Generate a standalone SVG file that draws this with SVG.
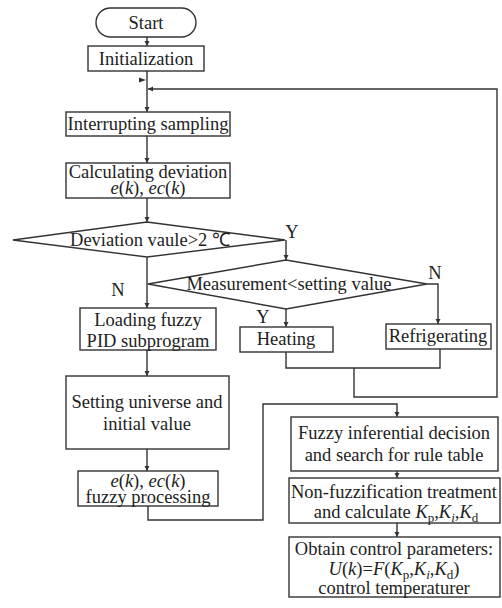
<svg xmlns="http://www.w3.org/2000/svg" width="502" height="608" viewBox="0 0 502 608">
<style>
.box{fill:#fff;stroke:#333;stroke-width:1.4}
.ln{fill:none;stroke:#333;stroke-width:1.4}
text{font-family:"Liberation Serif","Times New Roman",serif;font-size:18.5px;fill:#222;text-anchor:middle}
.i{font-style:italic}
.s{font-size:13px}
</style>
<defs>
<marker id="ah" viewBox="0 0 10 10" refX="10" refY="5" markerWidth="5" markerHeight="8" orient="auto" markerUnits="userSpaceOnUse">
<path d="M0,0 L10,5 L0,10 z" fill="#333"/>
</marker>
</defs>
<rect width="502" height="608" fill="#fff"/>
<g id="connectors">
<line class="ln" x1="147" y1="37" x2="147" y2="46" marker-end="url(#ah)"/>
<line class="ln" x1="147" y1="71" x2="147" y2="112" marker-end="url(#ah)"/>
<polygon points="139,77.5 146,80 139,82.5" fill="#333"/>
<polyline class="ln" points="354,368 354,397 497,397 497,89 148,89" marker-end="url(#ah)"/>
<line class="ln" x1="147" y1="136" x2="147" y2="163" marker-end="url(#ah)"/>
<line class="ln" x1="147" y1="198" x2="147" y2="222" marker-end="url(#ah)"/>
<line class="ln" x1="147" y1="257" x2="147" y2="308" marker-end="url(#ah)"/>
<line class="ln" x1="286" y1="240" x2="286" y2="260" marker-end="url(#ah)"/>
<line class="ln" x1="286" y1="309" x2="286" y2="327" marker-end="url(#ah)"/>
<polyline class="ln" points="427,284 438,284 438,324" marker-end="url(#ah)"/>
<polyline class="ln" points="286,352 286,368 440,368 440,349"/>
<line class="ln" x1="147" y1="350" x2="147" y2="376" marker-end="url(#ah)"/>
<line class="ln" x1="147" y1="449" x2="147" y2="471" marker-end="url(#ah)"/>
<polyline class="ln" points="148,506 148,520 263,520 263,404 397,404 397,417" marker-end="url(#ah)"/>
<line class="ln" x1="397" y1="471" x2="397" y2="478" marker-end="url(#ah)"/>
<line class="ln" x1="397" y1="523" x2="397" y2="537" marker-end="url(#ah)"/>
</g>
<g id="start">
<rect class="box" x="96" y="8" width="100" height="29" rx="14.5"/>
<text x="146" y="29">Start</text>
</g>
<g id="init">
<rect class="box" x="88" y="46" width="116" height="25"/>
<text x="146" y="65">Initialization</text>
</g>
<g id="sampling">
<rect class="box" x="66" y="112" width="164" height="24"/>
<text x="148" y="130">Interrupting sampling</text>
</g>
<g id="calc">
<rect class="box" x="66" y="163" width="164" height="35"/>
<text x="148" y="178">Calculating deviation</text>
<text x="148" y="194"><tspan class="i">e</tspan>(<tspan class="i">k</tspan>), <tspan class="i">ec</tspan>(<tspan class="i">k</tspan>)</text>
</g>
<g id="dev">
<polygon class="box" points="13,240 147,222 285,240 147,257"/>
<text x="150" y="246">Deviation vaule&gt;2 ℃</text>
</g>
<g id="meas">
<polygon class="box" points="148,284 286,260 427,284 286,309"/>
<text x="289" y="290">Measurement&lt;setting value</text>
</g>
<g id="labels">
<text x="292" y="238">Y</text>
<text x="118" y="296">N</text>
<text x="263" y="323">Y</text>
<text x="435" y="279">N</text>
</g>
<g id="loading">
<rect class="box" x="80" y="308" width="136" height="42"/>
<text x="148" y="326">Loading fuzzy</text>
<text x="148" y="347">PID subprogram</text>
</g>
<g id="heating">
<rect class="box" x="240" y="327" width="93" height="25"/>
<text x="286" y="345">Heating</text>
</g>
<g id="refrig">
<rect class="box" x="386" y="324" width="105" height="25"/>
<text x="438" y="342">Refrigerating</text>
</g>
<g id="setting">
<rect class="box" x="66" y="376" width="163" height="73"/>
<text x="147" y="408">Setting universe and</text>
<text x="147" y="430">initial value</text>
</g>
<g id="fuzzyproc">
<rect class="box" x="78" y="471" width="140" height="35"/>
<text x="148" y="487"><tspan class="i">e</tspan>(<tspan class="i">k</tspan>), <tspan class="i">ec</tspan>(<tspan class="i">k</tspan>)</text>
<text x="148" y="503">fuzzy processing</text>
</g>
<g id="inference">
<rect class="box" x="291" y="417" width="207" height="54"/>
<text x="394" y="439">Fuzzy inferential decision</text>
<text x="394" y="461">and search for rule table</text>
</g>
<g id="defuzz">
<rect class="box" x="289" y="478" width="211" height="45"/>
<text x="394" y="498">Non-fuzzification treatment</text>
<text x="396" y="518">and calculate <tspan class="i">K</tspan><tspan class="s" dy="4">p</tspan><tspan dy="-4">,</tspan><tspan class="i">K</tspan><tspan class="s i" dy="4">i</tspan><tspan dy="-4">,</tspan><tspan class="i">K</tspan><tspan class="s" dy="4">d</tspan></text>
</g>
<g id="obtain">
<rect class="box" x="289" y="537" width="211" height="60"/>
<text x="394" y="555">Obtain control parameters:</text>
<text x="394" y="575"><tspan class="i">U</tspan>(<tspan class="i">k</tspan>)=<tspan class="i">F</tspan>(<tspan class="i">K</tspan><tspan class="s" dy="4">p</tspan><tspan dy="-4">,</tspan><tspan class="i">K</tspan><tspan class="s i" dy="4">i</tspan><tspan dy="-4">,</tspan><tspan class="i">K</tspan><tspan class="s" dy="4">d</tspan><tspan dy="-4">)</tspan></text>
<text x="394" y="594">control temperaturer</text>
</g>
</svg>
